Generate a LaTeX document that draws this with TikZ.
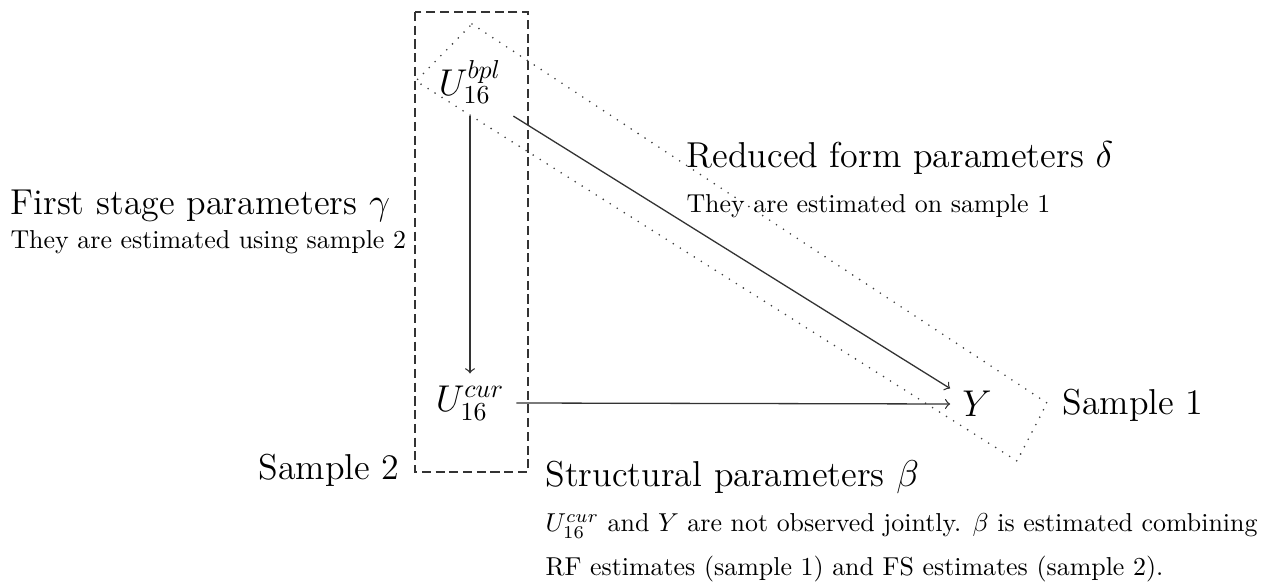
\documentclass[tikz,border=0pt]{standalone}
\begin{document}
\begin{tikzpicture}[x=0.386pt,y=-0.386pt,
  big/.style={font=\fontsize{13.9pt}{17pt}\selectfont, inner sep=0pt},
  small/.style={font=\normalsize, inner sep=0pt},
  var/.style={font=\Large, inner sep=4.5pt},
  arr/.style={->, draw=black!80, line width=0.5pt},
  sbox/.style={draw=black!80, dash pattern=on 3.5pt off 1.8pt},
  dbox/.style={draw=black!75, line width=0.7pt, line cap=round, dash pattern=on 0pt off 3.2pt}]
\useasboundingbox (0,0) rectangle (1275,582);

\node[var] (bpl) at (470,82) {$U_{16}^{bpl}$};
\node[var] (cur) at (470,403) {$U_{16}^{cur}$};
\node[var] (Y) at (977,404) {$Y$};

\draw[sbox] (415,12) rectangle (528,472);
\draw[dbox] (472,24) -- (1047,403) -- (1017,461) -- (416,81) -- cycle;

\draw[arr] (bpl.south) -- (cur.north);
\draw[arr] (bpl.south east) -- (Y.150);
\draw[arr] (cur.east) -- (Y.west);

\node[big, anchor=base west] (fs) at (10,215) {First stage parameters $\gamma$};
\node[small, anchor=base west] (fsd) at (10,249) {They are estimated using sample 2};
\node[big, anchor=base west] (rf) at (686,168) {Reduced form parameters $\delta$};
\node[small, anchor=base west] (rfd) at (686,213) {They are estimated on sample 1};
\node[big, anchor=base west] (s1) at (1062,415) {Sample 1};
\node[big, anchor=base east] (s2) at (400,480) {Sample 2};
\node[big, anchor=base west] (st) at (545,487) {Structural parameters $\beta$};
\node[small, anchor=base west] (st1) at (545,532) {$U_{16}^{cur}$ and $Y$ are not observed jointly. $\beta$ is estimated combining};
\node[small, anchor=base west] (st2) at (545,575) {RF estimates (sample 1) and FS estimates (sample 2).};
\end{tikzpicture}
\end{document}
